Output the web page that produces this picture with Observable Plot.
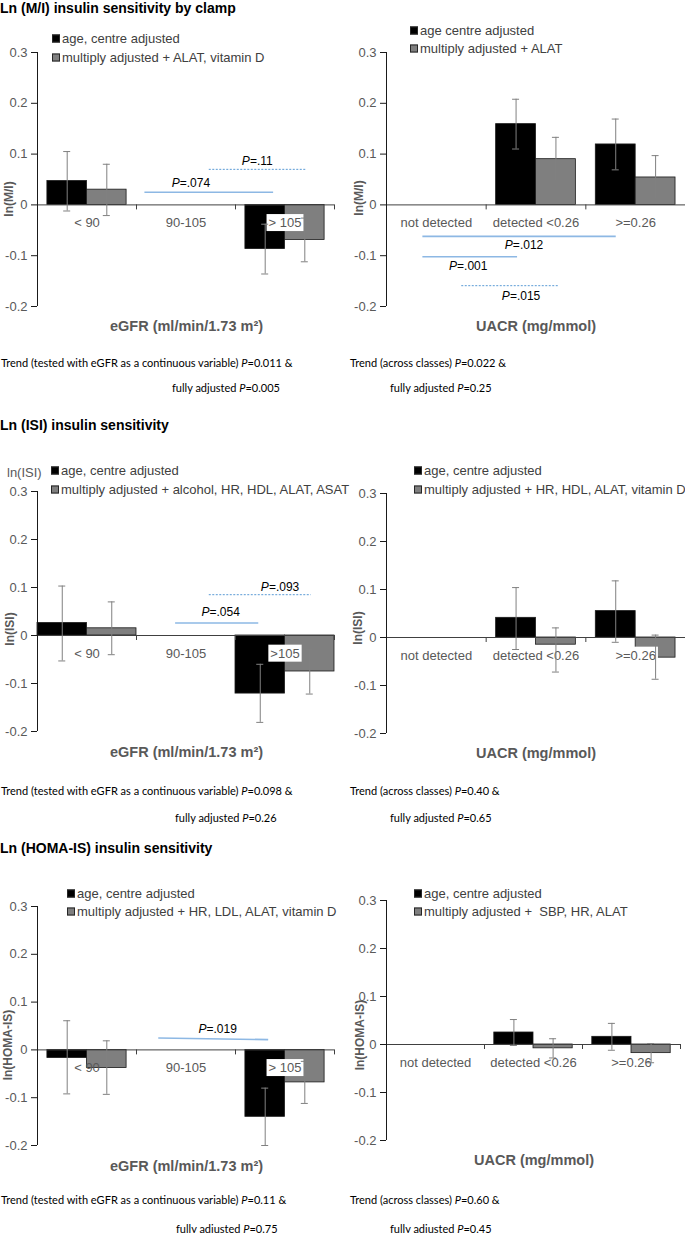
<!DOCTYPE html>
<html><head><meta charset="utf-8">
<script src="https://cdn.jsdelivr.net/npm/d3@7"></script>
<script src="https://cdn.jsdelivr.net/npm/@observablehq/plot@0.6"></script>
<style>
body{margin:0;background:#fff;}
#root{position:relative;width:685px;height:1233px;overflow:hidden;font-family:"Liberation Sans",Arial,sans-serif;background:#fff;}
.abs{position:absolute;white-space:pre;line-height:1;}
.sq{display:inline-block;width:6px;height:6px;border:1px solid #262626;margin-right:2px;vertical-align:0px;}
.title{font-weight:bold;font-size:14px;color:#000;}
.xt{font-weight:bold;font-size:14.5px;color:#595959;}
.yl{font-weight:bold;font-size:12px;color:#595959;}
.leg{font-size:13px;color:#404040;}
.foot{font-family:Lato,"Open Sans",sans-serif;font-size:11px;color:#000;}
</style></head><body><div id="root"></div>
<script>
const FONT = '"Liberation Sans", Arial, sans-serif';
// ---------- data ----------
const yTicks = [-0.2, -0.1, 0, 0.1, 0.2, 0.3];
const egfrClasses = ["< 90", "90-105", "> 105"];
const egfrClassesIsi = ["< 90", "90-105", ">105"];
const uacrClasses = ["not detected", "detected <0.26", ">=0.26"];

// ln(M/I) by eGFR
const clampEgfrAge = [0.047, null, -0.087];
const clampEgfrAgeCI = [[-0.012, 0.105], null, [-0.136, -0.038]];
const clampEgfrMulti = [0.030, null, -0.069];
const clampEgfrMultiCI = [[-0.021, 0.080], null, [-0.112, -0.026]];
const clampEgfrP = [
  {label: "P=.074", from: 1.08, to: 2.38, y1: 0.025, y2: 0.025, tx: 1.55, ty: 0.042, dashed: false},
  {label: "P=.11", from: 1.73, to: 2.72, y1: 0.070, y2: 0.070, tx: 2.22, ty: 0.087, dashed: true}
];
// ln(M/I) by UACR
const clampUacrAge = [null, 0.159, 0.119];
const clampUacrAgeCI = [null, [0.110, 0.208], [0.069, 0.169]];
const clampUacrMulti = [null, 0.090, 0.054];
const clampUacrMultiCI = [null, [0.047, 0.133], [0.011, 0.097]];
const clampUacrP = [
  {label: "P=.012", from: 0.36, to: 2.30, y1: -0.062, y2: -0.062, tx: 1.38, ty: -0.080, dashed: false},
  {label: "P=.001", from: 0.36, to: 1.31, y1: -0.102, y2: -0.102, tx: 0.82, ty: -0.120, dashed: false},
  {label: "P=.015", from: 0.75, to: 1.72, y1: -0.159, y2: -0.159, tx: 1.35, ty: -0.179, dashed: true}
];
// ln(ISI) by eGFR
const isiEgfrAge = [0.026, null, -0.121];
const isiEgfrAgeCI = [[-0.053, 0.103], null, [-0.181, -0.060]];
const isiEgfrMulti = [0.015, null, -0.075];
const isiEgfrMultiCI = [[-0.040, 0.070], null, [-0.122, -0.030]];
const isiEgfrP = [
  {label: "P=.054", from: 1.39, to: 2.23, y1: 0.026, y2: 0.026, tx: 1.85, ty: 0.049, dashed: false},
  {label: "P=.093", from: 1.73, to: 2.76, y1: 0.085, y2: 0.085, tx: 2.45, ty: 0.100, dashed: true}
];
// ln(ISI) by UACR
const isiUacrAge = [null, 0.041, 0.055];
const isiUacrAgeCI = [null, [-0.025, 0.104], [-0.010, 0.118]];
const isiUacrMulti = [null, -0.015, -0.042];
const isiUacrMultiCI = [null, [-0.072, 0.020], [-0.087, 0.005]];
// ln(HOMA-IS) by eGFR
const homaEgfrAge = [-0.017, null, -0.140];
const homaEgfrAgeCI = [[-0.092, 0.061], null, [-0.200, -0.080]];
const homaEgfrMulti = [-0.038, null, -0.068];
const homaEgfrMultiCI = [[-0.093, 0.019], null, [-0.112, -0.024]];
const homaEgfrP = [
  {label: "P=.019", from: 1.22, to: 2.33, y1: 0.025, y2: 0.0215, tx: 1.82, ty: 0.044, dashed: false}
];
// ln(HOMA-IS) by UACR
const homaUacrAge = [null, 0.025, 0.016];
const homaUacrAgeCI = [null, [-0.002, 0.052], [-0.012, 0.044]];
const homaUacrMulti = [null, -0.008, -0.018];
const homaUacrMultiCI = [null, [-0.028, 0.012], [-0.038, 0.002]];

const BLACK = "#000000", GREY = "#7f7f7f";
const yFmt = d => d === 0 ? "0" : d.toFixed(1);
const root = document.getElementById("root");

function addDiv(html, x, y, cls, anchor) {
  const d = document.createElement("div");
  d.className = "abs " + cls;
  d.innerHTML = html;
  d.style.left = x + "px";
  d.style.top = y + "px";
  d.style.transform = anchor === "middle" ? "translate(-50%,-50%)" : anchor === "rot" ? "translate(-50%,-50%) rotate(-90deg)" : "translate(0,-50%)";
  root.appendChild(d);
  return d;
}

function drawPanel(p) {
  const n = p.categories.length;
  const bw = (1 - 2 * p.pad) / p.series.length;
  const bars = [];
  p.series.forEach((s, si) => s.values.forEach((v, i) => {
    if (v == null) return;
    const x1 = i + p.pad + si * bw;
    bars.push({x1, x2: x1 + bw, xc: x1 + bw / 2, v, lo: s.ci[i][0], hi: s.ci[i][1], fill: s.fill});
  }));
  const cats = p.categories.map((c, i) => ({c, i: i + 0.5}));
  const ann = p.annotations || [];
  const svg = Plot.plot({
    width: p.width, height: p.mt + p.plotH + p.mb,
    marginTop: p.mt, marginBottom: p.mb, marginLeft: p.ml, marginRight: p.mr,
    style: {background: "transparent", fontFamily: FONT, overflow: "visible"},
    x: {domain: [0, n], axis: null},
    y: {domain: [-0.2, 0.3], axis: null},
    marks: [
      Plot.rect(bars, {x1: "x1", x2: "x2", y1: () => 0, y2: "v", fill: "fill", stroke: "#1a1a1a", strokeWidth: 0.8}),
      Plot.ruleY([0], {stroke: "#404040"}),
      Plot.ruleX(d3.range(n + 1), {x: d => d, y1: () => 0, y2: () => 0, insetBottom: -5, stroke: "#404040"}),
      Plot.text(cats, {x: "i", y: () => 0, text: "c", dy: 18, fontSize: 13, fill: "#595959"}),
      Plot.ruleX(bars, {x: "xc", y1: "lo", y2: "hi", stroke: "#808080"}),
      Plot.ruleY(bars, {y: "lo", x1: "xc", x2: "xc", insetLeft: -3.5, insetRight: -3.5, stroke: "#808080"}),
      Plot.ruleY(bars, {y: "hi", x1: "xc", x2: "xc", insetLeft: -3.5, insetRight: -3.5, stroke: "#808080"}),
      Plot.link(ann.filter(a => !a.dashed), {x1: "from", x2: "to", y1: "y1", y2: "y2", stroke: "#8db8e4", strokeWidth: 1.6}),
      Plot.link(ann.filter(a => a.dashed), {x1: "from", x2: "to", y1: "y1", y2: "y2", stroke: "#5b9bd5", strokeWidth: 1, strokeDasharray: "2,1.5"}),
      Plot.text(ann, {x: "tx", y: "ty", text: "label", fontSize: 12, fill: "#000"}),
      Plot.ruleX([0], {stroke: "#1a1a1a"}),
      Plot.ruleY(yTicks, {y: d => d, x1: () => 0, x2: () => 0, insetLeft: -6, stroke: "#1a1a1a"}),
      Plot.axisY({ticks: yTicks, tickSize: 0, tickPadding: 10, tickFormat: yFmt, fontSize: 13, color: "#595959", label: null})
    ]
  });
  svg.style.position = "absolute";
  svg.style.left = p.left + "px";
  svg.style.top = p.top + "px";
  root.appendChild(svg);
  svg.querySelectorAll("text").forEach(t => {
    const s = t.textContent;
    if (p.boxed.includes(s)) {
      const b = t.getBBox();
      const r = document.createElementNS("http://www.w3.org/2000/svg", "rect");
      r.setAttribute("x", b.x - 2); r.setAttribute("y", b.y - 1);
      r.setAttribute("width", b.width + 4); r.setAttribute("height", b.height + 2);
      r.setAttribute("fill", "#fff");
      if (t.getAttribute("transform")) r.setAttribute("transform", t.getAttribute("transform"));
      t.parentNode.insertBefore(r, t);
    }
    if (/^P=/.test(s)) {
      t.textContent = "";
      const ts = document.createElementNS("http://www.w3.org/2000/svg", "tspan");
      ts.setAttribute("font-style", "italic");
      ts.textContent = "P";
      t.appendChild(ts);
      t.appendChild(document.createTextNode(s.slice(1)));
    }
  });
}

const L = {left: 0, width: 345, ml: 37, mr: 11};
const R = {left: 340, width: 345, ml: 46, mr: 0};

drawPanel({...L, top: 40, mt: 12, plotH: 254, mb: 10, pad: 0.1, categories: egfrClasses, boxed: ["> 105"],
  series: [{values: clampEgfrAge, ci: clampEgfrAgeCI, fill: BLACK}, {values: clampEgfrMulti, ci: clampEgfrMultiCI, fill: GREY}],
  annotations: clampEgfrP});
drawPanel({...R, top: 40, mt: 12, plotH: 254, mb: 10, pad: 0.1, categories: uacrClasses, boxed: [],
  series: [{values: clampUacrAge, ci: clampUacrAgeCI, fill: BLACK}, {values: clampUacrMulti, ci: clampUacrMultiCI, fill: GREY}],
  annotations: clampUacrP});
drawPanel({...L, top: 479, mt: 12, plotH: 240, mb: 10, pad: 0, categories: egfrClassesIsi, boxed: [">105"],
  series: [{values: isiEgfrAge, ci: isiEgfrAgeCI, fill: BLACK}, {values: isiEgfrMulti, ci: isiEgfrMultiCI, fill: GREY}],
  annotations: isiEgfrP});
drawPanel({...R, top: 481, mt: 12, plotH: 240, mb: 10, pad: 0.1, categories: uacrClasses, boxed: [">=0.26"],
  series: [{values: isiUacrAge, ci: isiUacrAgeCI, fill: BLACK}, {values: isiUacrMulti, ci: isiUacrMultiCI, fill: GREY}],
  annotations: []});
drawPanel({...L, top: 894, mt: 12, plotH: 239, mb: 10, pad: 0.1, categories: egfrClasses, boxed: ["> 105"],
  series: [{values: homaEgfrAge, ci: homaEgfrAgeCI, fill: BLACK}, {values: homaEgfrMulti, ci: homaEgfrMultiCI, fill: GREY}],
  annotations: homaEgfrP});
drawPanel({...R, mr: 5, top: 888, mt: 12, plotH: 240, mb: 10, pad: 0.1, categories: uacrClasses, boxed: [">=0.26"],
  series: [{values: homaUacrAge, ci: homaUacrAgeCI, fill: BLACK}, {values: homaUacrMulti, ci: homaUacrMultiCI, fill: GREY}],
  annotations: []});

// ---------- titles, legends, axis titles, notes ----------
addDiv("Ln (M/I) insulin sensitivity by clamp", 0, 8, "title");
addDiv("Ln (ISI) insulin sensitivity", 0, 425, "title");
addDiv("Ln (HOMA-IS) insulin sensitivity", 0, 848, "title");

const sqB = '<span class="sq" style="background:#000"></span>';
const sqG = '<span class="sq" style="background:#7f7f7f"></span>';
function legend(x, y1, y2, t1, t2) {
  addDiv(sqB + t1, x, y1, "leg");
  addDiv(sqG + t2, x, y2, "leg");
}
legend(52, 38, 57, "age, centre adjusted", "multiply adjusted + ALAT, vitamin D");
legend(410, 29.5, 48, "age centre adjusted", "multiply adjusted + ALAT");
legend(51, 470, 488.5, "age, centre adjusted", "multiply adjusted + alcohol, HR, HDL, ALAT, ASAT");
legend(414, 470, 488.5, "age, centre adjusted", "multiply adjusted + HR, HDL, ALAT, vitamin D");
legend(67, 893, 910.5, "age, centre adjusted", "multiply adjusted + HR, LDL, ALAT, vitamin D");
legend(414, 893, 910.5, "age, centre adjusted", "multiply adjusted +  SBP, HR, ALAT");

addDiv("ln(ISI)", 7, 472, "leg").style.color = "#595959";

addDiv("ln(M/I)", 9, 199, "yl", "rot");
addDiv("ln(M/I)", 359, 198, "yl", "rot");
addDiv("ln(ISI)", 10, 629, "yl", "rot");
addDiv("ln(ISI)", 358, 628, "yl", "rot");
addDiv("ln(HOMA-IS)", 8, 1045, "yl", "rot");
addDiv("ln(HOMA-IS)", 360, 1035, "yl", "rot");

addDiv("eGFR (ml/min/1.73 m²)", 186.5, 326, "xt", "middle");
addDiv("UACR (mg/mmol)", 536, 326, "xt", "middle");
addDiv("eGFR (ml/min/1.73 m²)", 186.5, 752, "xt", "middle");
addDiv("UACR (mg/mmol)", 536, 753, "xt", "middle");
addDiv("eGFR (ml/min/1.73 m²)", 186.5, 1166, "xt", "middle");
addDiv("UACR (mg/mmol)", 534, 1160, "xt", "middle");

const P = "<i>P</i>";
addDiv(`Trend (tested with eGFR as a continuous variable) ${P}=0.011 &amp;`, 1, 362, "foot");
addDiv(`fully adjusted ${P}=0.005`, 172, 387, "foot");
addDiv(`Trend (across classes) ${P}=0.022 &amp;`, 350, 362, "foot");
addDiv(`fully adjusted ${P}=0.25`, 390, 387, "foot");
addDiv(`Trend (tested with eGFR as a continuous variable) ${P}=0.098 &amp;`, 1, 790, "foot");
addDiv(`fully adjusted ${P}=0.26`, 175, 817, "foot");
addDiv(`Trend (across classes) ${P}=0.40 &amp;`, 350, 790, "foot");
addDiv(`fully adjusted ${P}=0.65`, 390, 817, "foot");
addDiv(`Trend (tested with eGFR as a continuous variable) ${P}=0.11 &amp;`, 1, 1199, "foot");
addDiv(`fully adjusted ${P}=0.75`, 176, 1228, "foot");
addDiv(`Trend (across classes) ${P}=0.60 &amp;`, 350, 1199, "foot");
addDiv(`fully adjusted ${P}=0.45`, 390, 1228, "foot");
</script></body></html>
